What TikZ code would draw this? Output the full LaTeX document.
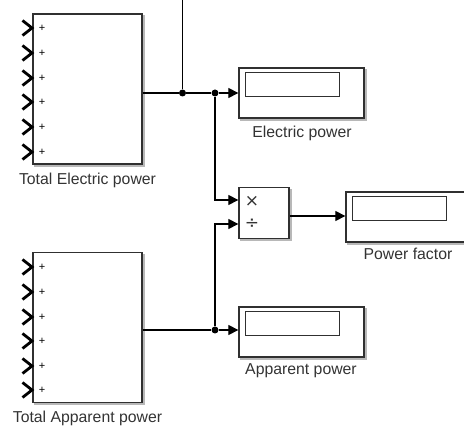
\documentclass[tikz,border=0pt]{standalone}
\usepackage{fontspec}
\setmainfont{Liberation Sans}
\newfontfamily\symfont{DejaVu Sans}
\usetikzlibrary{arrows.meta,calc}
\definecolor{edge}{HTML}{303030}
\definecolor{shade}{HTML}{B8B8B8}
\definecolor{txt}{HTML}{333333}
\tikzset{
  blk/.style={draw=edge,line width=1.3pt,fill=white,inner sep=0pt},
  shadowed/.style={blk,preaction={draw=shade,fill=shade,line width=1.5pt,transform canvas={shift={(1.8pt,-1.8pt)}}}},
  inner/.style={draw=edge,line width=1pt,fill=white,inner sep=0pt,minimum width=94pt,minimum height=24pt},
  wire/.style={draw=black,line width=1.2pt},
  arr/.style={wire,-{Triangle[length=10pt,width=10pt]}},
  dot/.style={circle,fill=black,inner sep=0pt,minimum size=7pt},
  lbl/.style={text=txt,font=\fontsize{15.8}{18}\selectfont,inner sep=0pt},
  plus/.style={font=\fontsize{11}{12}\selectfont,inner sep=0pt},
  sym/.style={font=\symfont\fontsize{17}{18}\selectfont,inner sep=0pt,text=txt},
  chev/.style={line width=2.8pt,line cap=butt,line join=miter,black}
}
\begin{document}
\begin{tikzpicture}[x=1pt,y=-1pt]
\useasboundingbox (0,0) rectangle (464,430);
\clip (0,0) rectangle (464,430);
% sum blocks
\node[shadowed,minimum width=109pt,minimum height=150pt] (sumE) at (87.5,89) {};
\node[shadowed,minimum width=109pt,minimum height=150pt] (sumA) at (87.5,327.5) {};
\node[lbl] (lE) at (87.5,180) {Total Electric power};
\node[lbl] (lA) at (87.5,418) {Total Apparent power};
\foreach \y [count=\i] in {28,53,78,102,127,152}{
  \draw[chev] (22.5,\y-7.5) -- (32,\y) -- (22.5,\y+7.5);
  \node[plus] (pe\i) at (42,\y) {+};
}
\foreach \y [count=\i] in {267,292,317,341,366,390}{
  \draw[chev] (22.5,\y-7.5) -- (32,\y) -- (22.5,\y+7.5);
  \node[plus] (pa\i) at (42,\y) {+};
}
% displays
\node[shadowed,minimum width=125pt,minimum height=50pt] (dE) at (301.5,93) {};
\node[inner] (iE) at (292,85) {};
\node[lbl] (ldE) at (302,133) {Electric power};
\node[shadowed,minimum width=125pt,minimum height=50pt] (dP) at (408.5,217) {};
\node[inner] (iP) at (399.5,208.5) {};
\node[lbl] (ldP) at (408,254) {Power factor};
\node[shadowed,minimum width=125pt,minimum height=50pt] (dA) at (301.5,332) {};
\node[inner] (iA) at (292,323.5) {};
\node[lbl] (ldA) at (301,371) {Apparent power};
% product
\node[shadowed,minimum width=50pt,minimum height=51pt] (prod) at (264,213) {};
\node[sym] (mul) at (252,201) {×};
\node[sym] (dv) at (252,224) {÷};
% junctions
\coordinate (top) at (182.5,0);
\node[dot] (j1) at (182.5,93) {};
\node[dot] (j2) at (215,93) {};
\node[dot] (j3) at (215,330) {};
% wires
\draw[wire] (sumE.east |- j1) -- (j1);
\draw[wire] (top) -- (j1);
\draw[wire] (j1) -- (j2);
\draw[arr] (j2) -- (dE.west |- j2);
\draw[arr] (j2) |- (prod.west |- 0,200);
\draw[wire] (sumA.east |- j3) -- (j3);
\draw[arr] (j3) -- (dA.west |- j3);
\draw[arr] (j3) |- (prod.west |- 0,224);
\draw[arr] (prod.east |- 0,216) -- (dP.west |- 0,216);
\end{tikzpicture}
\end{document}
